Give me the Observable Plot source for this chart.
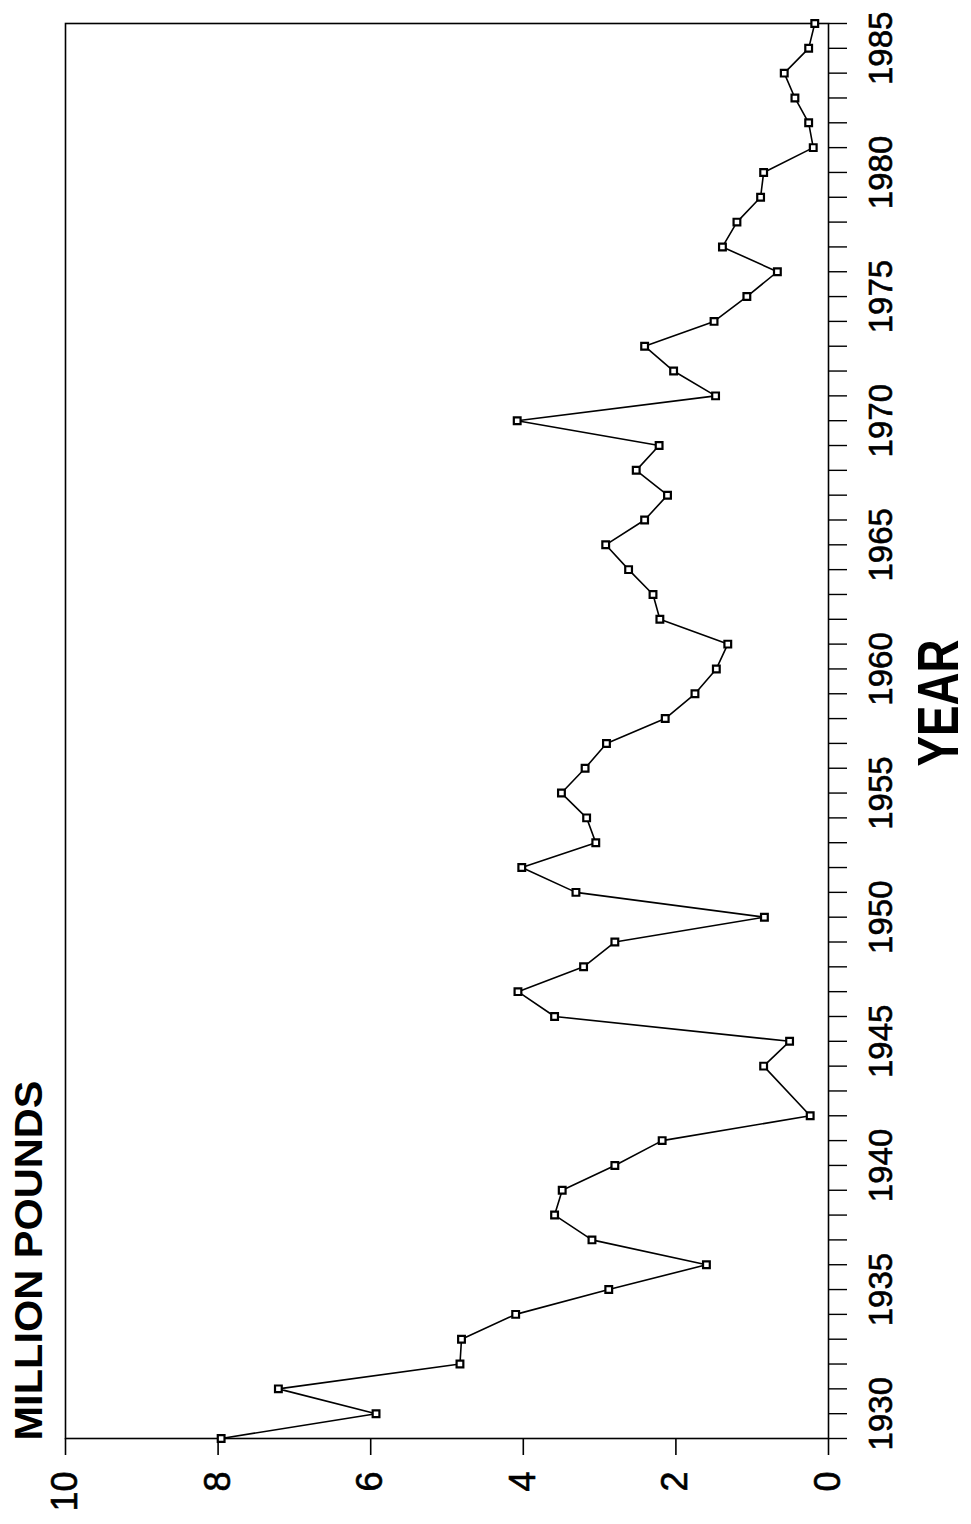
<!DOCTYPE html>
<html><head><meta charset="utf-8">
<script src="https://cdn.jsdelivr.net/npm/d3@7"></script>
<script src="https://cdn.jsdelivr.net/npm/@observablehq/plot@0.6"></script>
<style>
html,body{margin:0;padding:0;background:#fff;overflow:hidden}
svg{display:block}
g[aria-label="x-axis tick label"] text, g[aria-label="y-axis tick label"] text {stroke: black; stroke-width: 0.6px;}
</style>
</head><body><div id="chart"></div>
<script>
const years = [1929,1930,1931,1932,1933,1934,1935,1936,1937,1938,1939,1940,1941,1942,1944,1945,1946,1947,1948,1949,1950,1951,1952,1953,1954,1955,1956,1957,1958,1959,1960,1961,1962,1963,1964,1965,1966,1967,1968,1969,1970,1971,1972,1973,1974,1975,1976,1977,1978,1979,1980,1981,1982,1983,1984,1985,1986];
const values = [7.96,5.93,7.21,4.83,4.81,4.10,2.88,1.60,3.10,3.59,3.49,2.80,2.18,0.24,0.85,0.51,3.59,4.07,3.21,2.80,0.84,3.31,4.02,3.05,3.17,3.50,3.19,2.91,2.14,1.75,1.47,1.32,2.21,2.30,2.62,2.92,2.41,2.11,2.52,2.22,4.08,1.48,2.03,2.41,1.50,1.07,0.67,1.39,1.20,0.89,0.85,0.20,0.26,0.44,0.58,0.26,0.18];
const valueTicks = [0,2,4,6,8,10];
const yearTicks = [1929,1930,1931,1932,1933,1934,1935,1936,1937,1938,1939,1940,1941,1942,1943,1944,1945,1946,1947,1948,1949,1950,1951,1952,1953,1954,1955,1956,1957,1958,1959,1960,1961,1962,1963,1964,1965,1966,1967,1968,1969,1970,1971,1972,1973,1974,1975,1976,1977,1978,1979,1980,1981,1982,1983,1984,1985,1986];
const yearLabels = [1930,1935,1940,1945,1950,1955,1960,1965,1970,1975,1980,1985];
const valueTitle = "MILLION POUNDS";
const yearTitle = "YEAR";

const data = years.map((year, i) => ({year, value: values[i]}));

const chart = Plot.plot({
  width: 971, height: 1524,
  marginLeft: 65, marginRight: 143, marginTop: 23, marginBottom: 86,
  style: {fontFamily: "'Liberation Sans', Arial, Helvetica, sans-serif", background: "white", color: "black"},
  x: {domain: [10, 0], axis: null},
  y: {domain: [1929, 1986], axis: null},
  marks: [
    Plot.frame({stroke: "black", strokeWidth: 1.6}),
    Plot.axisX({anchor: "bottom", ticks: valueTicks, tickSize: 17, tickPadding: 16, tickRotate: -90, fontSize: 36, tickFormat: d => String(d), label: null, strokeWidth: 1.6}),
    Plot.axisY({anchor: "right", ticks: yearTicks, tickSize: 18, tickFormat: () => "", label: null, strokeWidth: 1.4}),
    Plot.axisY({anchor: "right", ticks: yearLabels, tickSize: 0, tickPadding: 63, tickRotate: -90, fontSize: 33, tickFormat: d => String(d), label: null}),
    Plot.line(data, {x: "value", y: "year", stroke: "black", strokeWidth: 1.6}),
    Plot.dot(data, {x: "value", y: "year", symbol: "square", r: 3.8, fill: "white", stroke: "black", strokeWidth: 2.2}),
    Plot.text([valueTitle], {frameAnchor: "bottom-left", rotate: -90, textAnchor: "start", lineAnchor: "middle", dx: -36, dy: 2, fontSize: 39, fontWeight: "bold"}),
    Plot.text([yearTitle], {frameAnchor: "right", rotate: -90, textAnchor: "middle", lineAnchor: "middle", dx: 111, dy: -28, fontSize: 58, fontWeight: "bold"})
  ]
});
d3.select(chart).selectAll("text").filter(function(){ return this.textContent === yearTitle; })
  .attr("textLength", 127).attr("lengthAdjust", "spacingAndGlyphs");
d3.select(chart).selectAll("text").filter(function(){ return this.textContent === valueTitle; })
  .attr("textLength", 360).attr("lengthAdjust", "spacingAndGlyphs");
document.getElementById("chart").appendChild(chart);
</script>
</body></html>
